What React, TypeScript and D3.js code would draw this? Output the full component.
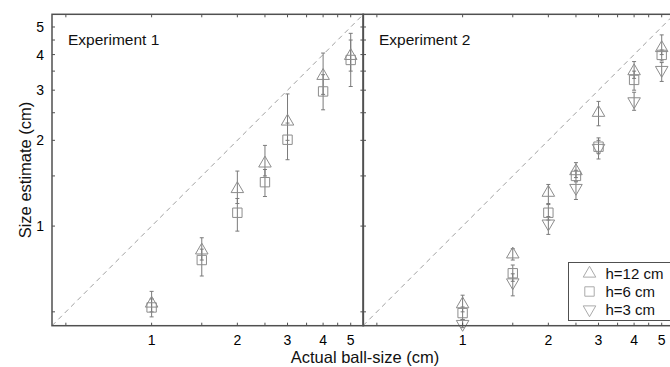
import React from "react";
import * as d3 from "d3";

// ball sizes (cm), shared by both experiments
const ballSizes = [1, 1.5, 2, 2.5, 3, 4, 5];

// Experiment 1 (h=12 and h=6 only)
const exp1H12 = [0.535, 0.822, 1.35, 1.66, 2.33, 3.37, 3.96];
const exp1H12Lo = [0.5, 0.76, 1.2, 1.5, 2.0, 2.9, 3.5];
const exp1H12Hi = [0.59, 0.91, 1.56, 1.92, 2.91, 4.05, 4.75];
const exp1H6 = [0.518, 0.76, 1.114, 1.426, 2.01, 2.97, 3.83];
const exp1H6Lo = [0.48, 0.668, 0.96, 1.27, 1.71, 2.56, 3.09];
const exp1H6Hi = [0.555, 0.83, 1.25, 1.58, 2.3, 3.4, 4.5];

// Experiment 2
const exp2H12 = [0.532, 0.796, 1.31, 1.56, 2.5, 3.5, 4.22];
const exp2H12Lo = [0.5, 0.76, 1.2, 1.48, 2.25, 3.3, 4.0];
const exp2H12Hi = [0.572, 0.833, 1.4, 1.67, 2.74, 3.78, 4.69];
const exp2H6 = [0.495, 0.683, 1.114, 1.5, 1.9, 3.26, 3.99];
const exp2H6Lo = [0.47, 0.64, 1.05, 1.44, 1.8, 3.0, 3.8];
const exp2H6Hi = [0.52, 0.73, 1.19, 1.57, 2.0, 3.5, 4.15];
const exp2H3 = [0.453, 0.634, 1.02, 1.36, 1.88, 2.74, 3.53];
const exp2H3Lo = [0.44, 0.569, 0.935, 1.24, 1.72, 2.55, 3.22];
const exp2H3Hi = [0.47, 0.68, 1.08, 1.43, 2.04, 2.95, 3.75];

const tickValues = d3.range(0.5, 5.01, 0.5);
const tickLabels = [1, 2, 3, 4, 5];
const legendLabels = ["h=12 cm", "h=6 cm", "h=3 cm"];

const W = 670;
const H = 367;
const panelTop = 14.3;
const panelSize = 311.4;
const panelLefts = [52, 363];
const domain: [number, number] = [0.447, 5.54];

const font = "'Liberation Sans', Arial, Helvetica, sans-serif";
const frameColor = "#505050";
const markColor = "#8c8c8c";
const barColor = "#7a7a7a";

type Shape = "up" | "square" | "down";

const symbolPath = (shape: Shape) => {
  if (shape === "square") return d3.symbol(d3.symbolSquare, 88)()!;
  return d3.symbol(d3.symbolTriangle, 68)()!;
};

const build = (vals: number[], lo: number[], hi: number[], shape: Shape) =>
  ballSizes.map((x, i) => ({ x, y: vals[i], lo: lo[i], hi: hi[i], shape }));

const panels = [
  {
    title: "Experiment 1",
    series: [
      build(exp1H6, exp1H6Lo, exp1H6Hi, "square"),
      build(exp1H12, exp1H12Lo, exp1H12Hi, "up"),
    ],
  },
  {
    title: "Experiment 2",
    series: [
      build(exp2H3, exp2H3Lo, exp2H3Hi, "down"),
      build(exp2H6, exp2H6Lo, exp2H6Hi, "square"),
      build(exp2H12, exp2H12Lo, exp2H12Hi, "up"),
    ],
  },
];

function Marker({ shape, cx, cy, color }: { shape: Shape; cx: number; cy: number; color: string }) {
  const rot = shape === "down" ? " rotate(180)" : "";
  return (
    <path
      d={symbolPath(shape)}
      transform={`translate(${cx},${cy})${rot}`}
      fill="none"
      stroke={color}
      strokeWidth={1}
    />
  );
}

function Panel({ left, idx }: { left: number; idx: number }) {
  const p = panels[idx];
  const x = d3.scaleLog().domain(domain).range([left, left + panelSize]);
  const y = d3.scaleLog().domain(domain).range([panelTop + panelSize, panelTop]);
  const bottom = panelTop + panelSize;
  const right = left + panelSize;
  const tl = 3;

  return (
    <g>
      {/* identity line */}
      <line
        x1={x(domain[0])}
        y1={y(domain[0])}
        x2={x(domain[1])}
        y2={y(domain[1])}
        stroke="#a0a0a0"
        strokeWidth={1}
        strokeDasharray="5,4"
      />
      {/* error bars */}
      {p.series.map((s, si) =>
        s.map((d, i) => (
          <g key={`e${si}-${i}`} stroke={barColor} strokeWidth={1}>
            <line x1={x(d.x)} x2={x(d.x)} y1={y(d.lo)} y2={y(d.hi)} />
            <line x1={x(d.x) - 2} x2={x(d.x) + 2} y1={y(d.lo)} y2={y(d.lo)} />
            <line x1={x(d.x) - 2} x2={x(d.x) + 2} y1={y(d.hi)} y2={y(d.hi)} />
          </g>
        ))
      )}
      {/* markers */}
      {p.series.map((s, si) =>
        s.map((d, i) => (
          <Marker key={`m${si}-${i}`} shape={d.shape} cx={x(d.x)} cy={y(d.y)} color={markColor} />
        ))
      )}
      {/* frame */}
      <rect
        x={left}
        y={panelTop}
        width={panelSize}
        height={panelSize}
        fill="none"
        stroke={frameColor}
        strokeWidth={1.5}
      />
      {/* inward ticks on all four sides */}
      {tickValues.map((t) => (
        <g key={`t${t}`} stroke={frameColor} strokeWidth={1}>
          <line x1={x(t)} x2={x(t)} y1={bottom} y2={bottom - tl} />
          <line x1={x(t)} x2={x(t)} y1={panelTop} y2={panelTop + tl} />
          <line x1={left} x2={left + tl} y1={y(t)} y2={y(t)} />
          <line x1={right} x2={right - tl} y1={y(t)} y2={y(t)} />
        </g>
      ))}
      {tickLabels.map((t) => (
        <text
          key={`xl${t}`}
          x={x(t)}
          y={bottom + 18.8}
          textAnchor="middle"
          fontSize={14}
          fontFamily={font}
          fill="#000"
        >
          {t}
        </text>
      ))}
      {idx === 0 &&
        tickLabels.map((t) => (
          <text
            key={`yl${t}`}
            x={left - 8}
            y={y(t) + 5}
            textAnchor="end"
            fontSize={14}
            fontFamily={font}
            fill="#000"
          >
            {t}
          </text>
        ))}
      <text x={left + 16} y={panelTop + 31} fontSize={15.5} fontFamily={font} fill="#111">
        {p.title}
      </text>
    </g>
  );
}

function Legend() {
  const x0 = 568.5;
  const y0 = 262.5;
  const shapes: Shape[] = ["up", "square", "down"];
  return (
    <g>
      <rect x={x0} y={y0} width={120} height={58} fill="#fff" stroke={frameColor} strokeWidth={1} />
      {legendLabels.map((lab, i) => (
        <g key={lab}>
          <Marker shape={shapes[i]} cx={x0 + 21} cy={y0 + 11 + i * 18} color="#aaa" />
          <text x={x0 + 37} y={y0 + 16 + i * 18} fontSize={15} fontFamily={font} fill="#111">
            {lab}
          </text>
        </g>
      ))}
    </g>
  );
}

export default function App() {
  return (
    <svg
      width={W}
      height={H}
      style={{ position: "absolute", left: 0, top: 0, background: "#fff" }}
    >
      <rect width={W} height={H} fill="#fff" />
      {panelLefts.map((l, i) => (
        <Panel key={i} left={l} idx={i} />
      ))}
      <Legend />
      <text
        transform={`translate(31,${panelTop + panelSize / 2}) rotate(-90)`}
        textAnchor="middle"
        fontSize={16.5}
        fontFamily={font}
        fill="#111"
      >
        Size estimate (cm)
      </text>
      <text x={365} y={363.3} textAnchor="middle" fontSize={16.5} fontFamily={font} fill="#111">
        Actual ball-size (cm)
      </text>
    </svg>
  );
}
